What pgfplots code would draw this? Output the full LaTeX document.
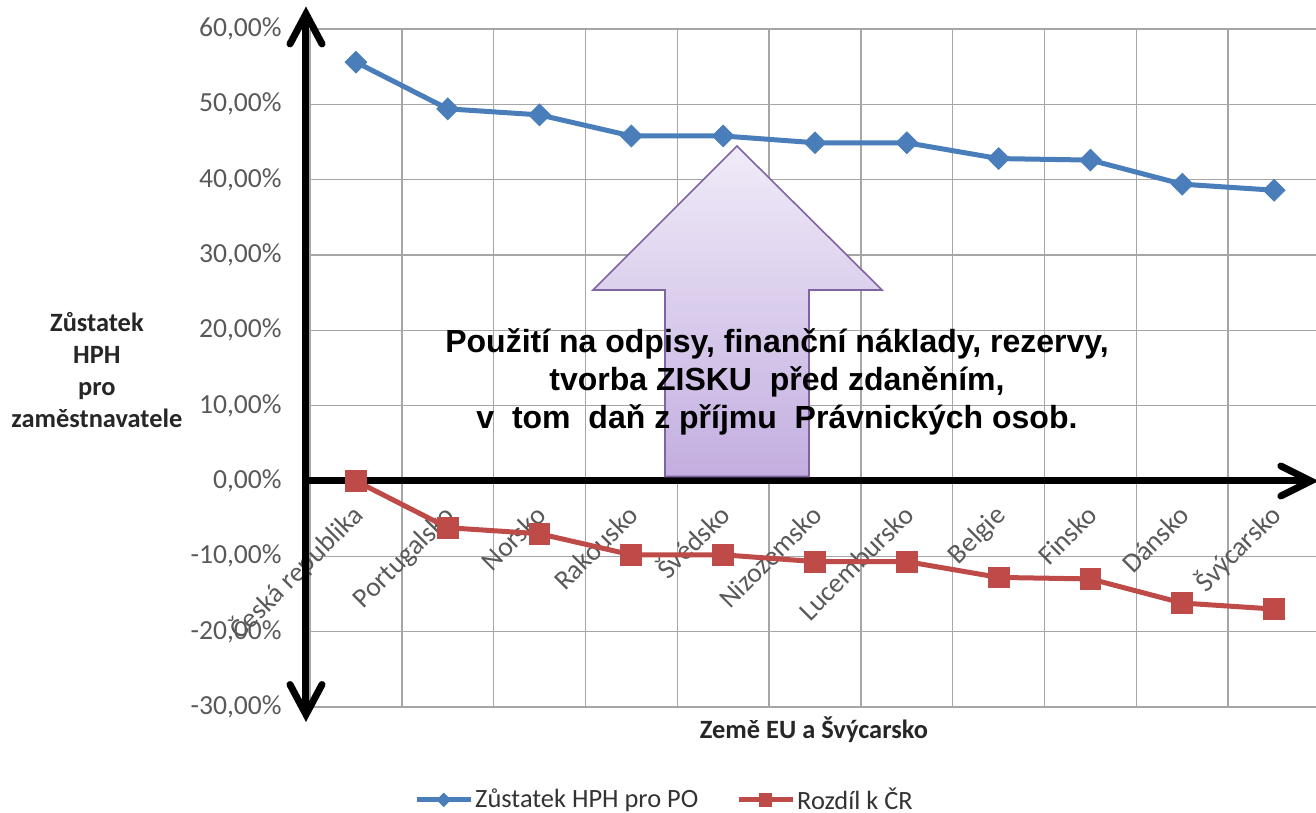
\documentclass[border=0pt]{standalone}
\usepackage{pgfplots}
\pgfplotsset{compat=1.18}
\usepackage{fontspec}
\setmainfont{Carlito}
\newfontfamily\arialfont{Liberation Sans}
\definecolor{blueS}{HTML}{4A7EBB}
\definecolor{redS}{HTML}{BE4B48}
\definecolor{gridc}{HTML}{A6A6A6}
\definecolor{tickc}{HTML}{595959}
\definecolor{arrowtop}{HTML}{F0EBF8}
\definecolor{arrowbot}{HTML}{C3AEE0}
\definecolor{arrowdraw}{HTML}{8064A2}
\begin{document}
\begin{tikzpicture}
\useasboundingbox (0,0) rectangle (658pt,406.5pt);
\begin{axis}[
  at={(155pt,53pt)}, anchor=south west,
  scale only axis, width=505pt, height=339pt,
  xmin=-0.5, xmax=10.5, ymin=-30, ymax=60,
  clip=false,
  axis line style={draw=none},
  xtick={0,...,10},
  xticklabels={Česká republika,Portugalsko,Norsko,Rakousko,Švédsko,Nizozemsko,Lucembursko,Belgie,Finsko,Dánsko,Švýcarsko},
  minor xtick={-0.5,0.5,1.5,2.5,3.5,4.5,5.5,6.5,7.5,8.5,9.5,10.5},
  xminorgrids, ymajorgrids,
  minor grid style={gridc, line width=0.7pt},
  major grid style={gridc, line width=0.7pt},
  tick style={draw=none},
  major tick length=0pt, minor tick length=0pt,
  ytick={-30,-20,-10,0,10,20,30,40,50,60},
  yticklabels={{-30,00\%},{-20,00\%},{-10,00\%},{0,00\%},{10,00\%},{20,00\%},{30,00\%},{40,00\%},{50,00\%},{60,00\%}},
  yticklabel style={font=\fontsize{13.8}{15}\selectfont, text=tickc, anchor=east, inner sep=0pt, xshift=-14pt},
  xticklabel style={font=\fontsize{13.8}{15}\selectfont, text=tickc, rotate=45, anchor=north east, inner sep=0pt, text height=0.7em, xshift=-1pt},
  xticklabel shift=-101pt,
  xlabel={Země EU a Švýcarsko},
  xlabel style={at={(axis description cs:0.499,-0.034)}, anchor=center, font=\bfseries\fontsize{13.2}{15}\selectfont, text=black!85},
  ylabel={Zůstatek\\HPH\\pro\\zaměstnavatele},
  ylabel style={at={(axis description cs:-0.211,0.497)}, rotate=-90, anchor=center, align=center, font=\bfseries\fontsize{13.2}{16}\selectfont, text=black!85},
  legend style={at={(axis description cs:0.351,-0.137)}, anchor=center, draw=none, fill=none,
    legend columns=2, font=\fontsize{13.2}{15}\selectfont, text=black!80,
    nodes={inner sep=1pt},
    /tikz/every even column/.append style={column sep=18pt}},
  legend image code/.code={\draw[mark repeat=2,mark phase=2,#1,every mark/.append style={scale=0.6}] plot coordinates {(0pt,0pt) (13.5pt,0pt) (27pt,0pt)};},
]
\addplot[color=blueS, line width=2.5pt, mark=square*, mark size=3.8pt, mark options={rotate=45, fill=blueS, draw=blueS, line width=0.5pt}]
coordinates {(0,55.6) (1,49.4) (2,48.6) (3,45.8) (4,45.8) (5,44.9) (6,44.9) (7,42.8) (8,42.6) (9,39.4) (10,38.6)};
\addlegendentry{Zůstatek HPH pro PO}
\addplot[color=redS, line width=2.5pt, mark=square*, mark size=5.2pt, mark options={fill=redS, draw=redS, line width=0.5pt}]
coordinates {(0,0) (1,-6.2) (2,-7.0) (3,-9.8) (4,-9.8) (5,-10.7) (6,-10.7) (7,-12.8) (8,-13.0) (9,-16.2) (10,-17.0)};
\addlegendentry{Rozdíl k ČR}
% black axis arrows
\draw[black, line width=3.5pt] (axis cs:-0.5436,-31.0) -- (axis cs:-0.5436,62.0);
\draw[black, line width=3.5pt, line join=miter, line cap=round] (axis cs:-0.5436,62.0) ++(-8pt,-15pt) -- ++(8pt,15pt) -- ++(8pt,-15pt);
\draw[black, line width=3.5pt, line join=miter, line cap=round] (axis cs:-0.5436,-31.0) ++(-8pt,15pt) -- ++(8pt,-15pt) -- ++(8pt,15pt);
\draw[black, line width=3.5pt] (axis cs:-0.5436,0) -- (axis cs:10.40,0);
\draw[black, line width=3.5pt, line join=miter, line cap=round] (axis cs:10.40,0) ++(-15pt,7.5pt) -- ++(15pt,-7.5pt) -- ++(-15pt,-7.5pt);
% purple block arrow
\path[top color=arrowtop, bottom color=arrowbot, draw=arrowdraw, line width=0.8pt]
  (axis cs:3.366,0.6) -- (axis cs:3.366,25.35) -- (axis cs:2.582,25.35) -- (axis cs:4.150,44.47)
  -- (axis cs:5.730,25.35) -- (axis cs:4.935,25.35) -- (axis cs:4.935,0.6) -- cycle;
\node[align=center, font=\arialfont\bfseries\fontsize{16}{19}\selectfont, text=black] at (axis cs:4.586,13.2)
  {Použití na odpisy, finanční náklady, rezervy,\\tvorba ZISKU\ \ před zdaněním,\\v\ \ tom\ \ daň z příjmu\ \ Právnických osob.};
\end{axis}
\end{tikzpicture}
\end{document}
